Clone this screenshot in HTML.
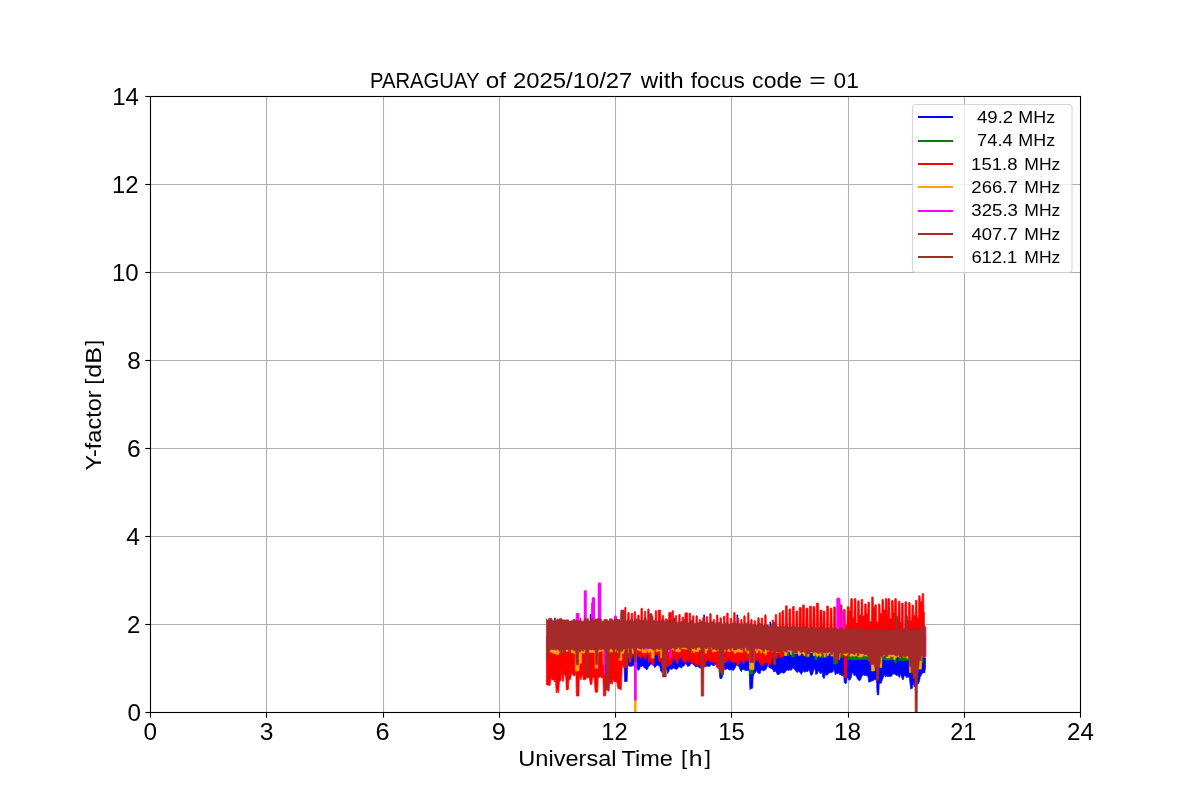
<!DOCTYPE html>
<html><head><meta charset="utf-8"><title>PARAGUAY Y-factor</title>
<style>
html,body{margin:0;padding:0;background:#fff;}
body{width:1200px;height:800px;overflow:hidden;font-family:"Liberation Sans", sans-serif;}
svg{display:block;will-change:transform;}
text{font-family:"Liberation Sans", sans-serif;}
</style></head><body>
<svg width="1200" height="800" viewBox="0 0 1200 800">
<rect width="1200" height="800" fill="#fff"/>
<g stroke="#b0b0b0" stroke-width="1.1" fill="none">
<line x1="266.5" y1="96.5" x2="266.5" y2="712.5"/>
<line x1="383.5" y1="96.5" x2="383.5" y2="712.5"/>
<line x1="499.5" y1="96.5" x2="499.5" y2="712.5"/>
<line x1="615.5" y1="96.5" x2="615.5" y2="712.5"/>
<line x1="731.5" y1="96.5" x2="731.5" y2="712.5"/>
<line x1="848.5" y1="96.5" x2="848.5" y2="712.5"/>
<line x1="964.5" y1="96.5" x2="964.5" y2="712.5"/>
<line x1="150.5" y1="624.5" x2="1080.5" y2="624.5"/>
<line x1="150.5" y1="536.5" x2="1080.5" y2="536.5"/>
<line x1="150.5" y1="448.5" x2="1080.5" y2="448.5"/>
<line x1="150.5" y1="360.5" x2="1080.5" y2="360.5"/>
<line x1="150.5" y1="272.5" x2="1080.5" y2="272.5"/>
<line x1="150.5" y1="184.5" x2="1080.5" y2="184.5"/>
</g>
<clipPath id="ax"><rect x="150.5" y="96.5" width="930" height="616"/></clipPath>
<g clip-path="url(#ax)">
<path d="M546.95,636.4 925.45,636.4 925.45,668.1 924.70,673.2 924.45,672.2 922.95,673.1 922.70,673.3 922.45,673.5 921.45,674.5 921.20,675.7 920.45,676.4 920.20,677.3 919.95,679.1 919.70,679.8 919.45,681.6 919.20,681.8 918.95,681.9 918.70,683.7 917.70,684.2 917.45,683.7 916.45,685.2 916.20,684.9 915.20,686.4 914.95,686.7 914.20,686.7 913.95,686.0 913.45,681.2 913.20,681.1 912.95,683.7 912.70,685.6 912.45,688.3 912.20,688.4 910.95,688.4 910.70,689.2 910.45,687.1 909.45,678.5 909.20,676.8 907.95,677.4 907.70,677.1 906.95,677.5 906.70,677.6 906.45,677.4 906.20,676.6 904.20,675.3 903.95,677.2 903.45,679.0 903.20,679.7 902.45,679.7 902.20,678.2 901.95,678.2 901.70,677.4 900.70,674.1 900.45,674.2 900.20,674.7 899.95,676.4 899.45,677.4 899.20,677.6 898.95,677.3 898.70,676.0 898.20,675.5 897.95,675.3 897.20,674.7 896.95,675.8 894.95,674.3 894.70,673.9 894.45,673.8 893.45,674.2 893.20,673.9 892.20,674.3 891.95,675.9 890.95,676.3 890.70,676.3 889.70,676.7 889.45,676.1 889.20,676.2 887.45,676.8 887.20,675.4 886.20,675.7 885.95,676.9 885.45,677.1 885.20,676.8 884.20,674.5 883.95,674.8 882.70,679.4 882.45,679.6 880.95,683.7 880.70,682.8 879.20,683.5 878.95,690.7 878.70,694.9 877.45,694.9 877.20,693.2 876.95,691.7 876.70,684.2 876.45,680.1 875.45,680.1 875.20,679.5 873.95,679.5 873.70,680.6 872.70,680.6 872.45,680.8 871.70,681.3 871.45,681.0 870.20,681.8 869.95,682.1 868.70,682.1 868.45,680.0 868.20,677.8 867.95,676.9 867.70,675.7 865.95,676.0 865.70,675.1 864.20,675.4 863.95,674.7 863.20,674.9 862.95,675.0 862.70,675.0 861.45,677.3 861.20,678.5 860.45,679.9 860.20,679.9 859.95,679.8 859.70,680.8 858.20,680.0 857.95,679.1 857.20,678.7 856.95,677.4 856.45,677.1 856.20,676.4 855.20,673.8 854.95,675.5 853.70,675.3 853.45,673.1 852.20,673.0 851.95,673.6 851.70,675.2 851.20,677.9 850.95,678.1 850.70,678.2 850.45,679.7 849.45,680.2 849.20,679.9 848.45,679.2 848.20,678.0 847.45,677.3 847.20,677.4 846.95,679.0 846.70,681.3 846.45,682.9 846.20,683.4 844.95,683.4 844.70,682.5 844.20,682.5 843.95,678.7 843.70,675.5 842.70,674.7 842.45,676.2 841.45,675.5 841.20,675.2 840.45,674.6 840.20,674.5 839.45,674.7 839.20,673.0 837.20,673.5 836.95,673.4 836.20,673.5 835.95,674.6 835.20,674.8 834.95,673.6 834.20,669.8 833.95,669.3 833.70,669.8 833.45,670.7 832.95,671.7 832.70,672.1 830.70,672.7 830.45,672.4 829.20,672.8 828.95,673.4 828.45,673.5 828.20,673.6 827.95,673.6 827.70,674.9 825.95,675.1 825.70,673.6 825.45,673.6 825.20,674.1 824.95,675.1 824.70,677.2 824.45,678.2 824.20,678.2 823.45,678.2 823.20,677.0 822.70,677.0 822.45,674.6 822.20,672.5 821.45,672.0 821.20,673.7 819.45,672.5 819.20,671.6 817.95,670.7 817.70,672.2 817.45,673.9 817.20,674.0 815.95,674.0 815.70,674.5 815.45,672.1 815.20,670.1 814.95,670.1 814.70,668.4 813.95,668.4 813.70,670.0 812.70,674.0 812.45,674.3 811.95,674.3 811.70,675.2 810.70,675.2 810.45,674.1 810.20,673.2 809.20,669.5 808.95,669.4 808.45,669.7 808.20,671.2 807.20,671.9 806.95,670.9 805.95,671.6 805.70,671.7 805.20,672.0 804.95,671.6 804.70,672.4 803.95,671.1 803.70,671.3 803.45,670.7 801.70,673.5 801.45,674.5 800.45,673.2 800.20,673.0 799.95,672.0 798.95,671.8 798.70,671.0 797.95,670.9 797.70,672.4 796.95,672.3 796.70,672.1 795.70,671.2 795.45,670.3 794.20,669.2 793.95,668.8 792.95,667.9 792.70,668.1 792.20,668.6 791.95,669.5 790.95,670.5 790.70,670.1 789.20,669.7 788.95,670.5 787.45,670.1 787.20,670.1 786.95,670.4 786.70,670.3 785.20,672.0 784.95,672.5 784.70,672.8 784.45,672.9 784.20,672.9 783.95,673.1 782.45,673.1 782.20,672.4 781.20,672.4 780.95,672.4 780.20,673.5 779.95,673.6 779.45,674.3 779.20,674.4 778.20,674.4 777.95,674.9 777.70,674.9 777.45,674.6 776.70,673.5 776.45,672.2 775.95,671.4 775.70,671.3 774.70,671.3 774.45,672.0 773.70,672.0 773.45,671.1 772.45,669.1 772.20,668.9 771.70,668.8 771.45,668.4 769.70,667.9 769.45,668.0 769.20,667.7 768.20,665.3 767.95,665.0 767.70,665.5 767.45,666.3 765.95,669.6 765.70,669.9 765.45,669.9 765.20,669.7 764.45,669.7 764.20,670.9 762.95,670.9 762.70,669.9 761.45,669.9 761.20,670.2 760.95,670.4 760.20,673.4 759.95,673.5 757.95,673.1 757.70,672.6 756.70,669.9 756.45,671.2 755.45,672.6 755.20,672.2 754.45,673.2 754.20,673.9 753.45,675.9 753.20,676.2 752.95,681.1 752.70,687.9 752.45,688.2 752.20,688.5 750.45,688.5 750.20,689.5 749.95,689.5 749.70,686.4 749.20,670.6 748.95,670.3 746.95,670.6 746.70,670.4 744.95,670.6 744.70,669.7 743.70,669.9 743.45,669.5 743.20,668.9 741.70,670.2 741.45,671.8 741.20,671.6 740.20,669.9 739.95,669.5 739.45,668.3 739.20,667.0 738.95,666.4 738.70,666.2 737.20,665.7 736.95,665.4 736.45,665.2 736.20,665.3 735.95,665.7 735.70,666.8 734.20,669.5 733.95,669.7 733.70,669.7 733.45,670.5 732.70,670.5 732.45,668.8 731.70,668.8 731.45,670.1 731.20,670.1 730.95,670.1 730.20,669.7 729.95,670.1 728.45,669.4 728.20,669.4 727.95,668.4 726.45,669.1 726.20,669.2 725.95,669.3 725.70,669.4 724.95,669.6 724.70,668.8 724.20,669.0 723.95,669.2 722.70,674.7 722.45,676.3 721.95,678.1 721.70,678.6 721.45,678.5 719.95,678.5 719.70,676.9 719.20,669.7 718.95,668.8 718.20,667.4 717.95,667.7 717.20,666.4 716.95,666.0 715.95,665.3 715.70,664.3 714.70,663.6 714.45,665.7 714.20,665.6 712.45,665.4 712.20,664.5 711.45,664.4 711.20,664.6 710.95,663.9 710.20,665.9 709.95,666.4 708.95,666.2 708.70,666.4 707.20,666.1 706.95,666.4 706.70,666.3 706.45,666.3 704.95,666.6 704.70,667.0 704.45,667.0 704.20,667.1 703.70,667.1 703.45,666.8 701.95,667.0 701.70,668.3 701.45,668.3 701.20,668.3 700.70,668.3 700.45,667.8 699.70,667.8 699.45,667.8 698.95,667.5 698.70,667.0 697.45,666.2 697.20,666.3 696.70,666.8 696.45,666.2 695.70,666.9 695.45,666.9 695.20,666.5 693.95,664.9 693.70,664.5 693.45,665.1 692.20,662.9 691.95,662.9 690.20,664.7 689.95,665.4 689.70,665.6 688.95,666.2 688.70,665.9 687.70,666.7 687.45,666.4 687.20,665.4 685.70,663.6 685.45,663.5 685.20,664.0 683.95,665.9 683.70,666.2 683.45,666.4 683.20,666.0 682.45,666.6 682.20,667.3 681.20,668.1 680.95,668.1 680.70,667.5 679.45,666.7 679.20,667.0 678.95,666.8 678.70,667.1 678.20,667.6 677.95,668.3 676.95,669.3 676.70,669.5 675.95,668.9 675.70,669.1 675.20,668.7 674.95,668.6 674.45,668.8 674.20,667.6 673.20,668.0 672.95,668.7 672.70,668.8 671.20,669.6 670.95,669.5 669.95,668.1 669.70,668.1 669.45,669.4 669.20,670.3 668.95,671.5 668.70,671.9 668.20,671.9 667.95,673.5 667.70,673.5 667.45,672.6 667.20,670.6 666.95,670.0 666.70,670.0 666.45,668.8 665.20,668.8 664.95,668.4 663.20,668.4 662.95,670.2 662.45,670.2 662.20,671.0 661.95,672.7 661.70,671.2 660.70,671.2 660.45,670.3 660.20,668.1 659.95,667.6 659.70,665.5 659.45,665.5 658.20,666.0 657.95,664.8 657.45,665.0 656.20,665.6 655.95,666.8 654.45,667.5 654.20,666.2 653.20,665.2 652.95,665.1 652.70,664.6 651.45,664.1 651.20,664.0 650.95,663.9 650.70,664.2 649.95,665.1 649.70,665.5 648.95,666.4 648.70,666.7 647.95,667.4 647.70,668.9 646.70,669.9 646.45,669.9 646.20,669.4 645.95,669.2 645.45,668.3 645.20,668.0 643.95,667.8 643.70,666.3 641.95,666.0 641.70,666.7 640.95,666.6 640.70,666.6 640.45,666.7 640.20,667.0 639.95,667.6 639.70,669.1 638.95,669.8 638.70,670.2 638.45,670.5 638.20,670.1 637.20,668.4 636.95,669.1 635.70,668.0 635.45,667.3 634.20,666.2 633.95,666.2 633.70,665.1 633.20,665.3 632.95,665.2 632.45,665.0 632.20,666.4 631.45,666.1 631.20,666.4 630.95,665.3 630.20,666.6 629.95,666.6 629.70,666.3 628.45,666.0 628.20,665.3 627.95,664.4 627.70,663.3 627.45,669.8 627.20,681.4 626.20,681.4 625.95,681.5 625.20,681.5 624.95,681.9 624.70,681.9 624.45,677.7 624.20,670.6 623.95,664.8 623.70,663.9 622.95,661.5 622.70,661.7 622.45,660.9 622.20,657.9 621.95,650.9 621.70,644.7 621.45,639.6 546.95,639.6Z" fill="#0000ff" stroke="#0000ff" stroke-width="0.70" stroke-linejoin="round"/>
<line x1="554.90" y1="640.0" x2="554.90" y2="618.4" stroke="#0000ff" stroke-width="1.60" stroke-linecap="round"/>
<line x1="590.60" y1="640.0" x2="590.60" y2="614.8" stroke="#0000ff" stroke-width="1.60" stroke-linecap="round"/>
<line x1="674.40" y1="640.0" x2="674.40" y2="618.8" stroke="#0000ff" stroke-width="1.60" stroke-linecap="round"/>
<line x1="704.10" y1="640.0" x2="704.10" y2="615.2" stroke="#0000ff" stroke-width="1.60" stroke-linecap="round"/>
<line x1="737.30" y1="640.0" x2="737.30" y2="615.2" stroke="#0000ff" stroke-width="1.60" stroke-linecap="round"/>
<line x1="770.30" y1="640.0" x2="770.30" y2="622.4" stroke="#0000ff" stroke-width="1.60" stroke-linecap="round"/>
<line x1="686.50" y1="640.0" x2="686.50" y2="620.3" stroke="#0000ff" stroke-width="1.60" stroke-linecap="round"/>
<line x1="691.00" y1="640.0" x2="691.00" y2="620.8" stroke="#0000ff" stroke-width="1.60" stroke-linecap="round"/>
<path d="M546.95,636.4 925.45,636.4 925.45,656.9 923.20,656.9 922.95,662.9 922.20,662.9 921.95,654.5 919.20,654.5 918.95,654.4 917.95,654.4 917.70,655.0 914.95,655.0 914.70,657.0 913.20,657.0 912.95,656.4 910.45,656.4 910.20,655.4 908.70,655.4 908.45,660.4 898.95,660.4 898.70,654.9 897.95,654.9 897.70,656.3 896.45,656.2 896.20,662.9 894.70,662.9 894.45,655.2 893.95,655.2 893.70,655.8 892.95,655.7 892.70,659.9 883.20,659.9 882.95,657.1 882.70,655.5 881.70,655.5 881.45,656.3 880.20,656.3 879.95,655.2 876.70,655.1 876.45,655.0 873.70,654.9 873.45,654.3 871.45,654.2 871.20,655.9 868.95,655.8 868.70,655.5 868.45,655.5 868.20,659.4 847.45,659.4 847.20,653.6 846.70,653.5 846.45,656.6 844.20,656.5 843.95,655.1 843.45,655.0 843.20,657.6 840.20,657.6 839.95,655.6 838.95,655.6 838.70,652.5 837.70,652.4 837.45,663.9 833.70,663.9 833.45,655.5 831.20,655.4 830.95,651.6 828.70,651.5 828.45,653.6 826.70,653.5 826.45,657.6 818.95,657.6 818.70,653.3 817.45,653.3 817.20,654.9 816.95,659.4 814.95,659.4 814.70,651.0 812.70,650.9 812.45,652.2 811.20,652.2 810.95,651.2 810.20,651.2 809.95,655.9 803.20,655.9 802.95,655.1 802.70,653.0 799.70,652.8 799.45,654.2 797.95,654.1 797.70,652.1 795.95,652.1 795.70,650.9 794.95,650.8 794.70,656.9 791.70,656.9 791.45,651.4 790.70,651.4 790.45,651.3 789.95,651.2 789.70,651.2 789.45,650.0 789.20,650.0 788.95,655.5 785.95,655.5 785.70,650.9 785.20,650.9 784.95,639.6 753.20,639.6 752.95,673.9 749.70,673.9 749.45,639.6 723.70,639.6 723.45,675.2 721.20,675.2 720.95,639.6 546.95,639.6Z" fill="#008000" stroke="#008000" stroke-width="0.70" stroke-linejoin="round"/>
<path d="M546.45,640.4 624.20,640.4 624.45,634.4 624.70,607.5 625.95,607.5 626.20,634.4 627.45,634.4 627.70,613.3 627.95,612.6 629.20,612.6 629.45,634.4 630.95,634.4 631.20,614.0 631.45,613.3 632.45,613.3 632.70,614.0 632.95,634.4 633.95,634.4 634.20,612.3 634.45,611.6 635.45,611.6 635.70,612.3 635.95,634.4 637.45,634.4 637.70,615.8 637.95,615.1 638.95,615.1 639.20,615.8 639.45,634.4 640.70,634.4 640.95,608.9 641.20,608.2 642.20,608.2 642.45,608.9 642.70,634.4 644.20,634.4 644.45,611.3 645.70,611.3 645.95,634.4 647.45,634.4 647.70,609.6 647.95,608.9 648.95,608.9 649.20,609.6 649.45,634.4 651.20,634.4 651.45,617.2 651.70,616.5 652.70,616.5 652.95,617.2 653.20,634.4 654.95,634.4 655.20,611.4 655.45,610.7 656.45,610.7 656.70,611.4 656.95,634.4 657.95,634.4 658.20,610.1 660.45,610.1 660.70,610.9 660.95,634.4 661.95,634.4 662.20,616.1 662.45,615.4 663.45,615.4 663.70,616.1 663.95,634.4 665.20,634.4 665.45,619.4 665.70,618.7 666.70,618.7 666.95,619.4 667.20,634.4 668.45,634.4 668.70,613.1 668.95,612.4 671.20,612.4 671.45,613.1 671.70,634.4 671.95,634.4 672.20,610.7 673.45,610.7 673.70,634.4 674.95,634.4 675.20,616.4 675.45,615.7 676.70,615.7 676.95,634.4 678.45,634.4 678.70,615.2 678.95,614.5 680.20,614.5 680.45,634.4 681.95,634.4 682.20,617.7 682.45,617.0 683.45,617.0 683.70,617.7 683.95,634.4 684.70,634.4 684.95,613.5 685.20,612.8 687.45,612.8 687.70,613.5 687.95,634.4 688.95,634.4 689.20,613.7 689.45,613.0 690.45,613.0 690.70,613.7 690.95,634.4 692.20,634.4 692.45,616.4 692.70,615.7 693.70,615.7 693.95,616.4 694.20,634.4 695.70,634.4 695.95,616.4 696.20,615.7 697.20,615.7 697.45,616.4 697.70,634.4 698.95,634.4 699.20,620.3 699.45,619.6 700.45,619.6 700.70,620.3 700.95,634.4 702.45,634.4 702.70,618.1 702.95,617.4 703.95,617.4 704.20,618.1 704.45,634.4 705.95,634.4 706.20,617.2 706.45,616.5 707.45,616.5 707.70,617.2 707.95,634.4 709.45,634.4 709.70,614.4 709.95,613.6 710.95,613.6 711.20,614.4 711.45,634.4 712.95,634.4 713.20,620.3 713.45,619.6 714.45,619.6 714.70,620.3 714.95,634.4 716.20,634.4 716.45,615.7 716.70,615.0 717.70,615.0 717.95,615.7 718.20,634.4 719.70,634.4 719.95,618.4 720.20,617.7 721.20,617.7 721.45,618.4 721.70,634.4 723.20,634.4 723.45,616.8 723.70,616.1 724.70,616.1 724.95,616.8 725.20,634.4 726.45,634.4 726.70,613.7 726.95,613.0 727.95,613.0 728.20,613.7 728.45,634.4 729.95,634.4 730.20,619.0 730.45,618.3 731.45,618.3 731.70,619.0 731.95,634.4 733.45,634.4 733.70,613.1 733.95,612.4 734.95,612.4 735.20,613.1 735.45,634.4 736.95,634.4 737.20,618.6 737.45,617.9 738.45,617.9 738.70,618.6 738.95,634.4 740.45,634.4 740.70,619.6 741.95,619.6 742.20,634.4 743.45,634.4 743.70,616.4 743.95,615.7 744.95,615.7 745.20,616.4 745.45,634.4 747.45,634.4 747.70,612.8 748.95,612.8 749.20,634.4 750.45,634.4 750.70,620.1 750.95,619.4 751.95,619.4 752.20,620.1 752.45,634.4 753.95,634.4 754.20,621.4 754.45,620.6 755.45,620.6 755.70,621.4 755.95,634.4 757.45,634.4 757.70,618.4 757.95,617.7 758.95,617.7 759.20,618.4 759.45,634.4 760.95,634.4 761.20,618.6 761.45,617.9 762.45,617.9 762.70,618.6 762.95,634.4 764.45,634.4 764.70,615.5 764.95,614.8 765.95,614.8 766.20,615.5 766.45,634.4 771.95,634.4 772.20,620.0 773.45,620.0 773.70,634.4 774.95,634.4 775.20,615.1 775.45,614.4 776.45,614.4 776.70,615.1 776.95,634.4 778.95,634.4 779.20,612.8 780.45,612.8 780.70,627.9 781.70,627.9 781.95,611.4 782.20,610.7 783.70,610.7 783.95,627.9 785.20,627.9 785.45,606.5 785.70,605.8 787.20,605.8 787.45,627.9 788.70,627.9 788.95,609.6 789.20,608.9 790.70,608.9 790.95,627.9 792.20,627.9 792.45,607.2 792.70,606.5 794.20,606.5 794.45,627.9 795.70,627.9 795.95,611.7 796.20,611.0 797.70,611.0 797.95,627.9 798.95,627.9 799.20,608.1 799.45,607.4 800.95,607.4 801.20,608.1 801.45,627.9 802.20,627.9 802.45,605.6 802.70,604.9 804.20,604.9 804.45,605.6 804.70,627.9 805.70,627.9 805.95,608.8 806.20,608.1 807.70,608.1 807.95,608.8 808.20,627.9 809.20,627.9 809.45,606.7 809.70,606.0 811.20,606.0 811.45,606.7 811.70,627.9 812.70,627.9 812.95,607.2 813.20,606.5 814.70,606.5 814.95,607.2 815.20,627.9 816.20,627.9 816.45,603.7 816.70,603.0 818.20,603.0 818.45,603.7 818.70,627.9 819.70,627.9 819.95,610.9 820.20,610.1 821.70,610.1 821.95,610.9 822.20,627.9 822.95,627.9 823.20,611.0 824.70,611.0 824.95,611.7 825.20,627.9 826.45,627.9 826.70,606.0 828.20,606.0 828.45,606.7 828.70,627.9 829.95,627.9 830.20,608.1 831.70,608.1 831.95,608.8 832.20,627.9 833.45,627.9 833.70,606.9 835.20,606.9 835.45,607.6 835.70,627.9 839.70,627.9 839.95,605.4 840.20,604.7 841.70,604.7 841.95,605.4 842.20,627.9 842.95,627.9 843.20,610.2 843.45,609.5 844.95,609.5 845.20,610.2 845.45,627.9 845.95,627.9 846.20,624.9 846.95,624.9 847.20,607.2 847.45,606.5 848.70,606.5 848.95,607.2 849.20,610.9 850.45,610.9 850.70,599.3 850.95,598.6 852.20,598.6 852.45,599.3 852.70,617.9 853.95,617.9 854.20,599.3 854.45,598.6 855.70,598.6 855.95,599.3 856.20,623.1 857.45,623.1 857.70,600.8 859.20,600.8 859.45,615.2 860.95,615.2 861.20,599.5 862.70,599.5 862.95,616.1 864.45,616.1 864.70,603.9 866.20,603.9 866.45,613.5 867.70,613.5 867.95,602.1 869.20,602.1 869.45,602.8 869.70,621.4 871.45,621.4 871.70,597.0 873.20,597.0 873.45,607.4 874.70,607.4 874.95,604.7 876.20,604.7 876.45,605.4 876.70,622.2 878.20,622.2 878.45,603.9 879.70,603.9 879.95,604.6 880.20,613.5 881.70,613.5 881.95,599.5 883.20,599.5 883.45,600.2 883.70,610.0 885.20,610.0 885.45,598.6 886.70,598.6 886.95,599.3 887.20,613.5 887.70,613.5 887.95,599.3 888.20,598.6 889.45,598.6 889.70,599.3 889.95,618.7 891.20,618.7 891.45,601.1 891.70,600.4 892.95,600.4 893.20,601.1 893.45,612.6 894.45,612.6 894.70,599.3 894.95,598.6 896.20,598.6 896.45,599.3 896.70,624.9 897.95,624.9 898.20,601.9 898.45,601.2 899.70,601.2 899.95,601.9 900.20,622.2 901.20,622.2 901.45,603.7 901.70,603.0 902.95,603.0 903.20,603.7 903.45,628.4 904.70,628.4 904.95,602.4 905.20,601.7 906.45,601.7 906.70,602.4 906.95,620.5 908.20,620.5 908.45,603.2 908.70,602.5 909.95,602.5 910.20,603.2 910.45,620.5 911.70,620.5 911.95,605.2 913.45,605.2 913.70,615.2 915.20,615.2 915.45,600.4 916.95,600.4 917.20,617.9 918.45,617.9 918.70,595.8 919.95,595.8 920.20,596.5 920.45,602.1 921.95,602.1 922.20,593.4 923.45,593.4 923.70,594.1 923.95,612.4 924.45,612.4 924.45,639.6 846.95,639.6 846.70,677.4 844.20,677.4 843.95,639.6 786.20,639.6 785.95,648.0 785.70,651.3 785.45,654.1 785.20,654.6 784.45,655.1 784.20,655.7 782.95,656.5 782.70,656.7 782.45,657.0 782.20,656.5 781.70,657.0 781.45,657.2 781.20,657.2 780.95,657.7 779.95,657.9 779.70,657.4 779.20,654.9 778.95,653.3 778.70,654.0 778.20,655.5 777.95,656.6 777.70,657.3 777.45,657.7 776.95,658.2 776.70,659.0 776.45,659.3 776.20,657.6 775.95,653.6 775.70,652.4 775.20,652.4 774.95,652.0 773.95,652.0 773.70,653.8 773.45,653.8 773.20,654.1 772.20,659.4 771.95,660.8 771.70,661.3 770.70,663.3 770.45,663.7 770.20,664.1 769.95,664.5 768.95,666.0 768.70,665.8 768.20,665.2 767.95,663.4 767.20,662.5 766.95,662.2 766.20,661.5 765.95,662.7 765.70,662.7 764.45,663.6 764.20,661.4 763.95,662.0 763.20,665.0 762.95,665.0 762.45,664.9 762.20,665.6 761.20,665.4 760.95,665.3 760.70,664.7 759.95,663.2 759.70,662.0 758.70,660.0 758.45,660.3 757.70,658.8 757.45,658.5 757.20,659.0 756.20,660.4 755.70,661.0 755.45,661.4 754.70,662.4 754.45,663.2 754.20,657.7 753.95,653.1 753.45,653.1 753.20,651.7 752.45,651.7 752.20,651.7 750.95,651.7 750.70,653.2 749.70,653.2 749.45,653.3 748.95,658.0 748.70,659.9 748.45,660.4 747.45,660.1 747.20,660.7 746.20,660.4 745.95,659.2 744.70,660.2 744.45,661.1 744.20,663.6 743.20,663.6 742.95,661.6 741.95,661.6 741.70,661.1 741.45,660.6 741.20,661.7 740.20,659.7 739.95,659.4 739.45,663.2 739.20,664.2 738.20,664.2 737.95,665.3 737.70,665.3 737.45,665.0 736.45,662.0 736.20,661.4 735.95,661.4 735.70,661.7 734.45,661.9 734.20,663.1 733.45,663.2 733.20,661.6 731.70,661.9 731.45,661.3 731.20,660.5 730.70,658.8 730.45,660.3 730.20,659.5 729.95,659.4 728.95,660.6 728.70,658.4 727.95,659.3 727.70,660.3 727.45,660.6 726.20,661.8 725.95,661.7 725.70,662.9 724.20,662.3 723.95,662.6 723.20,663.7 722.95,661.9 721.45,664.1 721.20,665.1 719.70,667.2 719.45,668.2 719.20,668.5 718.95,668.4 718.20,668.1 717.95,668.3 717.20,668.0 716.95,667.7 715.70,663.1 715.45,662.9 715.20,662.8 714.95,662.7 713.45,662.0 713.20,662.5 712.70,662.3 712.45,662.4 712.20,662.7 711.95,660.9 710.95,661.9 710.70,661.6 710.45,662.2 709.45,660.2 709.20,659.8 708.95,659.8 708.45,660.1 708.20,660.3 706.70,661.1 706.45,661.7 706.20,661.8 705.95,662.3 704.95,666.3 704.70,666.8 702.95,667.2 702.70,666.1 701.70,666.3 701.45,668.5 701.20,668.5 700.95,668.0 700.70,667.4 700.20,666.2 699.95,665.4 699.20,663.5 698.95,663.5 698.45,665.0 698.20,664.4 697.95,665.1 697.70,665.6 696.95,664.1 696.70,663.9 696.45,663.8 696.20,665.2 694.95,664.8 694.70,663.5 694.45,663.4 694.20,663.3 693.95,663.1 693.70,663.1 692.45,662.3 692.20,663.5 691.20,662.8 690.95,661.4 690.45,661.0 690.20,659.9 689.95,658.2 689.45,653.5 689.20,658.1 688.95,662.1 688.45,662.2 688.20,660.4 686.45,660.8 686.20,662.6 684.95,662.9 684.70,661.9 684.45,661.8 683.70,661.2 683.45,661.7 682.95,661.4 682.70,659.9 681.20,656.5 680.95,656.8 680.70,657.6 680.45,658.2 679.95,659.7 679.70,659.7 678.70,656.1 678.45,657.1 677.70,663.1 677.45,663.7 677.20,663.7 676.95,662.1 675.95,662.1 675.70,661.3 675.45,660.1 675.20,659.7 674.70,657.4 674.45,657.0 673.95,658.0 673.70,657.7 672.95,659.2 672.70,659.8 672.20,660.9 671.95,663.2 671.20,664.9 670.95,665.2 670.70,663.9 668.95,664.2 668.70,664.4 667.70,666.4 667.45,666.6 666.95,666.6 666.70,666.4 665.45,666.4 665.20,666.6 664.20,666.6 663.95,666.5 662.95,666.5 662.70,667.7 662.45,667.7 662.20,667.0 661.45,662.5 661.20,661.6 659.95,660.8 659.70,661.6 658.95,661.1 658.70,659.4 658.45,655.9 658.20,654.9 657.95,655.0 657.70,653.6 656.95,653.7 656.70,654.6 654.95,655.0 654.70,654.7 654.45,654.7 654.20,659.5 653.95,663.5 653.70,665.3 652.45,665.3 652.20,663.9 651.95,663.9 651.70,663.5 651.20,662.0 650.95,660.8 650.70,660.7 649.45,660.7 649.20,662.7 648.95,662.7 648.70,662.3 648.20,658.3 647.95,654.0 647.70,653.8 645.95,657.6 645.70,658.9 645.45,659.5 645.20,659.8 644.95,659.2 644.70,658.9 643.70,656.7 643.45,656.2 642.70,656.4 642.45,657.0 641.70,657.1 641.45,657.9 640.20,658.2 639.95,657.9 639.70,656.5 639.45,656.3 638.20,656.8 637.95,654.8 637.20,655.1 636.95,653.9 636.70,651.9 636.45,651.8 635.70,651.8 635.45,651.4 634.20,651.4 633.95,651.7 633.70,652.4 633.45,654.0 631.95,658.2 631.70,657.9 631.45,657.2 631.20,655.9 630.95,655.3 629.95,655.6 629.70,657.7 627.95,658.2 627.70,661.4 627.45,666.1 626.70,666.0 626.45,667.7 625.20,667.6 624.95,667.5 623.45,667.4 623.20,665.6 622.45,665.6 622.20,667.0 621.95,673.9 621.70,680.1 621.45,685.6 621.20,689.7 620.20,689.6 619.95,689.0 619.20,688.9 618.95,689.2 618.70,689.1 617.95,688.3 617.70,687.1 617.45,686.8 617.20,684.4 616.95,682.4 616.45,682.4 616.20,681.5 614.45,681.5 614.20,682.3 613.20,679.3 612.95,679.6 612.20,684.5 611.95,683.6 611.20,683.6 610.95,683.5 610.20,683.5 609.95,683.5 609.70,682.0 609.45,683.5 609.20,688.5 608.95,691.4 606.95,689.7 606.70,688.8 606.20,688.4 605.95,690.4 605.70,695.2 605.45,696.0 603.70,696.0 603.45,694.7 603.20,685.5 602.95,677.7 601.45,677.7 601.20,677.9 600.45,676.1 600.20,677.0 599.45,677.3 599.20,677.3 598.20,677.7 597.95,685.3 597.70,691.7 597.45,691.7 597.20,692.4 595.95,692.4 595.70,692.0 595.20,692.0 594.95,689.5 594.70,685.9 594.45,680.9 594.20,678.0 593.45,677.4 593.20,678.0 592.70,677.6 592.45,678.2 592.20,681.7 591.95,683.6 591.70,684.6 590.45,684.6 590.20,684.0 589.95,681.7 589.20,677.9 588.95,677.0 587.95,677.6 587.70,678.4 587.45,678.1 586.45,677.1 586.20,677.9 585.95,679.2 585.70,678.8 585.45,679.8 583.70,679.8 583.45,680.1 583.20,679.2 582.70,674.9 582.45,673.1 582.20,674.5 581.70,677.7 581.45,678.6 581.20,679.6 580.45,679.6 580.20,677.9 579.45,672.6 579.20,682.1 578.95,695.4 578.70,696.1 577.70,696.1 577.45,696.1 576.45,696.1 576.20,689.6 575.95,675.1 575.70,671.8 575.45,673.2 575.20,674.7 574.95,675.9 574.70,675.9 574.45,675.8 573.70,675.8 573.45,675.5 572.45,674.3 572.20,673.9 571.70,673.3 571.45,673.3 571.20,675.0 570.95,677.3 570.70,678.9 570.45,679.4 569.95,679.6 569.70,679.6 568.95,679.8 568.70,683.6 568.45,689.1 568.20,689.4 567.95,689.9 566.45,689.9 566.20,687.2 565.95,681.2 565.70,677.5 564.45,673.5 564.20,673.0 563.95,674.8 563.70,679.8 563.45,681.3 562.45,681.3 562.20,679.8 561.45,669.3 561.20,675.2 560.95,680.8 560.45,680.9 560.20,681.2 559.45,681.3 559.20,684.7 558.95,690.0 558.70,692.9 558.45,692.9 558.20,690.4 557.45,690.4 557.20,692.8 556.20,692.8 555.95,688.6 555.45,680.6 555.20,678.9 554.45,681.9 554.20,681.9 553.95,679.8 552.70,679.8 552.45,679.0 552.20,679.9 551.45,677.1 551.20,678.4 550.95,679.6 550.70,681.8 550.45,683.6 550.20,685.3 548.45,685.3 548.20,685.0 546.70,685.0 546.45,683.0Z" fill="#ff0000" stroke="#ff0000" stroke-width="0.70" stroke-linejoin="round"/>
<path d="M546.95,636.4 925.45,636.4 925.45,657.4 924.70,657.4 924.45,656.7 922.70,656.7 922.45,657.1 921.70,657.1 921.45,669.1 918.20,669.1 917.95,657.0 917.70,657.8 915.70,657.8 915.45,656.2 914.45,656.2 914.20,657.3 912.20,657.3 911.95,672.6 909.45,672.6 909.20,656.7 908.95,658.8 907.70,658.8 907.45,657.8 905.70,657.8 905.45,657.3 903.45,657.3 903.20,655.9 901.20,655.9 900.95,657.2 900.20,657.2 899.95,657.2 899.45,657.2 899.20,657.0 898.20,657.0 897.95,656.8 896.70,656.7 896.45,657.4 895.45,657.4 895.20,659.4 893.70,659.4 893.45,657.7 893.20,656.6 891.45,656.5 891.20,655.7 890.20,655.7 889.95,658.0 888.45,658.0 888.20,658.1 886.70,658.0 886.45,655.7 885.70,655.7 885.45,655.3 883.70,655.2 883.45,656.2 881.95,656.1 881.70,667.4 879.70,667.4 879.45,657.3 879.20,655.3 877.70,655.3 877.45,655.1 876.20,655.0 875.95,657.4 874.95,657.4 874.70,670.9 871.45,670.9 871.20,657.7 870.95,657.7 870.70,657.2 869.70,657.2 869.45,657.3 867.95,657.3 867.70,656.2 866.95,656.2 866.70,656.1 864.70,656.0 864.45,655.2 862.70,655.1 862.45,656.6 861.95,656.5 861.70,657.1 859.45,657.0 859.20,657.1 857.95,657.0 857.70,655.5 855.45,655.4 855.20,656.2 853.20,656.1 852.95,655.8 851.95,655.7 851.70,656.2 849.45,656.1 849.20,654.1 847.20,654.0 846.95,655.6 845.45,655.6 845.20,655.3 844.45,655.3 844.20,654.4 842.70,654.3 842.45,653.9 841.70,653.9 841.45,653.6 839.95,653.6 839.70,659.4 837.70,659.4 837.45,654.3 835.70,654.2 835.45,656.0 835.20,656.0 834.95,657.6 833.95,657.6 833.70,653.6 832.95,653.6 832.70,656.1 830.95,656.0 830.70,653.1 829.20,653.1 828.95,653.9 828.45,653.9 828.20,655.9 827.20,655.8 826.95,653.1 825.45,653.0 825.20,657.0 824.45,657.0 824.20,653.8 822.70,653.8 822.45,653.6 821.20,653.6 820.95,656.3 819.70,656.2 819.45,655.2 818.20,655.2 817.95,656.2 816.20,656.2 815.95,653.0 815.20,653.0 814.95,655.7 813.20,655.7 812.95,652.5 810.70,652.5 810.45,652.3 808.95,652.2 808.70,656.5 806.45,656.4 806.20,655.7 804.20,655.6 803.95,654.2 802.95,654.2 802.70,652.5 801.45,652.5 801.20,654.0 800.45,654.0 800.20,655.4 798.20,655.3 797.95,653.1 797.20,653.1 796.95,653.4 794.70,653.4 794.45,651.9 793.45,651.8 793.20,651.6 791.70,651.5 791.45,654.5 790.45,654.5 790.20,651.5 788.45,651.4 788.20,651.4 786.95,651.3 786.70,655.7 784.70,655.6 784.45,651.2 782.45,651.1 782.20,651.6 779.95,651.5 779.70,652.3 778.70,652.3 778.45,651.8 777.70,651.8 777.45,652.5 775.70,652.4 775.45,655.2 773.95,655.1 773.70,651.6 772.45,651.5 772.20,651.2 770.70,651.1 770.45,650.9 768.70,650.8 768.45,651.2 766.45,651.1 766.20,654.8 764.95,654.7 764.70,653.1 763.70,653.1 763.45,651.3 761.70,651.2 761.45,653.1 760.45,653.0 760.20,650.3 757.95,650.1 757.70,653.1 756.45,653.1 756.20,650.8 754.20,650.7 753.95,669.4 749.70,669.4 749.45,653.2 747.20,653.1 746.95,650.7 745.20,650.7 744.95,650.0 742.95,650.0 742.70,652.2 740.70,652.2 740.45,652.0 738.45,652.0 738.20,651.7 736.20,651.7 735.95,653.2 734.20,653.2 733.95,651.0 731.95,650.9 731.70,649.2 730.45,649.2 730.20,651.6 727.70,651.6 727.45,650.3 726.20,650.3 725.95,650.6 724.95,650.6 724.70,652.6 722.70,652.5 722.45,649.6 720.70,649.6 720.45,648.9 719.20,648.9 718.95,650.3 717.95,650.2 717.70,650.8 716.45,650.8 716.20,651.5 714.95,651.4 714.70,651.3 713.95,651.3 713.70,652.1 712.45,652.0 712.20,648.8 710.20,648.8 709.95,648.9 709.20,648.9 708.95,649.7 706.70,649.7 706.45,653.2 705.20,653.2 704.95,648.7 702.95,648.6 702.70,650.6 701.20,650.6 700.95,649.5 699.95,649.5 698.95,649.5 698.70,651.7 696.45,651.7 696.20,651.0 694.70,651.0 694.45,653.0 693.70,653.0 693.45,650.5 691.95,650.5 691.70,652.7 690.70,652.7 690.45,649.9 689.45,649.9 689.20,649.6 688.45,649.6 688.20,649.3 686.45,649.3 686.20,649.0 684.45,649.1 684.20,648.7 682.20,648.7 681.95,648.6 680.45,648.6 680.20,652.0 678.20,652.0 677.95,651.7 675.95,651.7 675.70,650.8 674.95,650.8 674.70,650.0 672.95,650.0 672.70,649.1 671.95,649.1 671.70,650.6 670.70,650.6 670.45,650.8 669.20,650.8 668.95,651.4 668.20,651.4 667.95,649.0 665.95,649.1 665.70,648.7 664.20,648.7 663.95,648.9 663.20,648.9 662.95,652.9 662.20,652.9 661.95,650.2 661.70,657.6 660.70,657.6 660.45,650.2 659.70,650.2 659.45,651.1 658.45,651.1 658.20,651.4 656.20,651.5 655.95,648.8 654.20,648.8 653.95,658.1 651.45,658.1 651.20,652.2 650.95,652.2 650.70,650.9 649.70,650.9 649.45,652.7 648.20,652.7 647.95,650.4 646.45,650.4 646.20,652.9 644.45,652.9 644.20,652.6 642.20,652.7 641.95,648.9 641.20,648.9 640.95,650.9 640.20,650.9 639.95,650.9 638.95,651.0 638.70,649.7 636.45,649.8 636.20,652.3 634.95,652.3 634.70,653.2 632.20,653.3 631.95,649.3 630.95,649.4 630.70,650.8 629.70,650.8 629.45,650.1 628.45,650.1 628.20,653.1 627.45,653.2 627.20,652.8 625.95,652.9 625.70,649.6 624.20,649.6 623.95,652.4 623.70,652.4 623.45,653.6 622.45,653.6 622.20,650.9 621.95,650.4 621.70,660.4 619.20,660.4 618.95,652.4 617.70,652.5 617.45,650.6 615.20,650.7 614.95,652.4 612.70,652.4 612.45,651.7 610.70,651.8 610.45,652.1 609.20,652.2 608.95,650.2 606.95,650.3 606.70,650.8 605.95,650.8 605.70,650.9 605.45,651.0 605.20,664.2 603.20,664.2 602.95,651.1 601.45,651.1 601.20,650.7 600.45,650.7 600.20,651.8 599.95,651.8 598.45,651.8 598.20,650.9 597.95,650.9 597.70,668.2 595.20,668.2 594.95,651.8 594.70,652.4 589.70,652.4 589.45,650.5 589.20,650.5 588.95,653.4 587.70,653.4 587.45,651.5 586.20,651.5 585.95,651.4 584.70,651.4 584.45,653.1 582.45,653.1 582.20,652.8 581.45,652.8 581.20,663.4 579.20,663.4 578.95,670.9 575.45,670.9 575.20,652.5 574.95,653.3 572.95,653.3 572.70,652.6 571.70,652.6 571.45,652.9 570.45,652.9 570.20,650.9 569.70,650.9 569.45,651.3 567.95,651.3 567.70,651.6 566.20,651.6 565.95,650.8 564.70,650.8 564.45,651.6 561.45,651.6 561.20,653.3 559.95,653.3 559.70,651.8 558.95,651.8 558.70,654.6 556.20,654.6 555.95,653.0 555.70,653.0 555.45,653.5 553.45,653.5 553.20,651.1 552.70,651.1 552.45,652.8 551.45,652.8 551.20,652.1 550.45,652.1 550.20,650.6 548.95,650.6 548.70,651.8 547.70,651.8 547.45,652.8 546.95,652.8Z" fill="#ffa500" stroke="#ffa500" stroke-width="0.70" stroke-linejoin="round"/>
<line x1="635.35" y1="645.0" x2="635.35" y2="712.5" stroke="#ffa500" stroke-width="2.60" stroke-linecap="butt"/>
<path d="M546.95,636.4 925.45,636.4 925.45,655.7 924.20,655.7 923.95,653.1 922.95,653.1 922.70,653.1 921.70,653.1 921.45,654.5 920.70,654.5 920.45,653.7 919.45,653.7 919.20,653.5 918.45,653.5 918.20,654.6 917.20,654.6 916.95,653.7 915.45,653.7 915.20,653.1 913.45,653.1 913.20,655.1 911.95,655.1 911.70,653.1 911.20,653.1 910.95,655.1 909.70,655.1 909.45,653.3 908.45,653.3 908.20,655.3 906.70,655.3 906.45,653.4 904.95,653.4 904.70,653.8 904.20,653.8 903.95,654.7 902.70,654.7 902.45,654.2 900.95,654.2 900.70,654.4 899.95,654.4 899.20,654.4 898.95,653.1 897.70,653.0 897.45,655.1 896.20,655.1 895.95,654.7 894.45,654.7 894.20,654.0 892.70,653.9 892.45,654.0 891.45,654.0 891.20,652.8 889.95,652.8 889.70,652.6 888.45,652.6 888.20,654.5 887.20,654.5 886.95,652.5 885.95,652.5 884.95,652.4 884.70,653.9 883.95,653.9 883.70,652.6 882.70,652.5 882.45,654.2 881.95,654.2 881.70,652.8 880.45,652.7 880.20,653.4 879.20,653.4 878.95,653.4 877.45,653.3 877.20,655.0 876.45,655.0 876.20,653.1 874.45,653.0 874.20,654.4 872.70,654.3 872.45,652.9 871.45,652.9 871.20,651.9 869.95,651.9 869.70,653.9 868.95,653.9 868.70,654.7 867.45,654.6 867.20,652.4 866.45,652.4 866.20,651.8 865.45,651.7 865.20,652.5 863.70,652.5 863.45,654.0 861.95,653.9 861.70,651.9 860.70,651.8 860.45,651.5 859.95,651.5 859.70,651.4 858.70,651.4 858.45,651.5 857.70,651.5 857.45,652.0 856.45,652.0 856.20,651.5 854.70,651.4 854.45,651.9 852.70,651.9 852.45,651.9 851.20,651.9 850.95,651.5 849.20,651.4 848.95,651.1 847.70,651.0 847.45,653.3 846.95,653.3 846.70,653.5 845.20,653.4 844.95,651.6 843.45,651.5 843.20,652.0 841.70,651.9 841.45,651.7 840.70,651.7 840.45,652.6 838.95,652.5 838.70,653.1 838.20,653.1 837.95,650.6 836.20,650.5 835.95,650.6 834.70,650.6 834.45,650.6 832.95,650.6 832.70,650.7 831.20,650.6 830.95,650.3 829.95,650.3 829.70,651.7 828.70,651.6 828.45,651.4 827.45,651.4 827.20,652.5 826.20,652.5 825.95,650.4 825.45,650.3 825.20,650.8 823.70,650.8 823.45,650.0 822.20,649.9 821.95,651.3 820.45,651.3 820.20,650.5 818.45,650.4 818.20,649.8 817.70,649.8 817.45,649.8 816.20,649.7 815.95,651.8 814.95,651.7 814.70,649.7 813.70,649.6 813.45,650.9 812.70,650.9 812.45,649.9 810.70,649.9 810.45,649.6 809.70,649.6 809.45,649.4 808.20,649.4 807.95,652.0 806.45,651.9 806.20,651.0 804.70,650.9 804.45,649.3 803.20,649.2 802.95,650.7 801.45,650.6 801.20,649.7 799.45,649.7 799.20,649.4 797.95,649.4 797.70,649.3 796.20,649.3 795.95,649.6 794.95,649.5 794.70,649.4 792.95,649.4 792.70,648.8 791.95,648.7 791.70,650.3 790.20,650.2 789.95,650.4 789.20,650.3 788.95,649.5 787.70,649.4 787.45,648.5 786.45,648.5 786.20,648.7 784.70,648.6 784.45,648.8 782.70,648.7 782.45,648.4 781.20,648.4 780.95,648.2 779.45,648.1 779.20,649.6 777.95,649.6 777.70,648.6 776.45,648.5 776.20,649.6 774.70,649.5 774.45,650.7 773.95,650.7 773.70,648.7 772.95,648.7 772.70,647.8 772.20,647.8 771.95,649.4 770.95,649.4 770.70,648.9 770.20,648.9 769.95,647.7 768.45,647.6 768.20,648.4 766.70,648.3 766.45,648.1 764.70,648.0 764.45,647.8 763.45,647.8 763.20,650.0 761.95,649.9 761.70,648.8 760.20,648.7 759.95,647.2 759.45,647.2 757.70,647.1 757.45,649.4 755.70,649.3 755.45,647.9 754.70,647.8 754.45,647.9 754.20,659.6 752.70,659.6 752.45,649.0 751.70,649.0 751.45,648.2 750.20,648.2 749.95,649.4 749.45,649.3 749.20,648.1 748.45,648.1 748.20,647.0 746.95,646.9 746.70,646.6 745.70,646.5 745.45,646.6 744.95,646.6 743.70,646.6 743.45,646.9 742.70,646.9 742.45,647.7 741.20,647.6 740.95,646.5 739.70,646.4 739.45,646.4 738.20,646.3 737.95,646.3 736.70,646.3 736.45,646.8 735.70,646.8 735.45,646.9 734.45,646.9 734.20,646.9 733.45,646.9 733.20,646.3 732.45,646.3 732.20,647.3 730.95,647.3 730.70,649.0 729.20,648.9 728.95,646.2 727.95,646.1 727.70,646.3 726.95,646.3 726.70,647.9 725.70,647.9 725.45,646.3 724.95,646.3 724.70,648.9 723.20,648.9 722.95,646.7 721.45,646.7 721.20,646.8 720.20,646.7 719.95,648.7 718.70,648.7 718.45,647.6 717.20,647.6 716.95,646.2 716.20,646.2 715.95,646.0 714.45,646.0 714.20,646.1 713.45,646.1 713.20,647.6 711.95,647.5 711.70,646.0 710.70,645.9 710.45,646.0 709.70,646.0 709.45,646.3 708.70,646.3 708.45,646.9 706.95,646.9 706.70,645.8 705.70,645.8 705.45,647.1 703.95,647.1 703.70,645.7 702.70,645.7 702.45,648.5 700.70,648.5 700.45,645.7 699.95,645.7 698.95,645.7 698.70,646.9 696.95,646.9 696.70,645.8 695.45,645.8 695.20,647.6 693.95,647.6 693.70,646.4 692.70,646.4 692.45,645.9 691.45,645.9 691.20,647.6 690.45,647.6 690.20,645.7 689.45,645.7 689.20,646.3 688.20,646.3 687.95,647.4 686.70,647.4 686.45,646.3 684.95,646.3 684.70,646.1 683.45,646.1 683.20,645.8 681.70,645.8 681.45,645.8 680.20,645.8 679.95,648.1 679.20,648.1 678.95,645.8 677.20,645.8 676.95,648.1 675.45,648.1 675.20,645.9 674.70,645.9 674.45,646.0 672.95,646.0 672.70,645.8 671.70,645.8 671.45,657.2 669.70,657.2 669.45,645.9 669.20,645.9 668.45,645.9 668.20,645.9 666.45,645.9 666.20,648.7 664.95,648.7 664.70,647.7 663.95,647.7 663.70,647.8 662.70,647.8 662.45,646.4 661.45,646.5 661.20,646.2 660.45,646.2 660.20,646.3 659.70,646.3 659.45,646.0 657.70,646.0 657.45,645.9 656.70,645.9 656.45,646.0 655.45,646.0 655.20,646.3 654.20,646.3 653.95,646.2 652.20,646.2 651.95,646.1 650.95,646.1 650.70,646.1 649.20,646.1 648.95,646.1 648.70,648.9 643.70,648.9 643.45,646.0 641.95,646.0 641.70,646.1 640.20,646.1 639.95,646.1 639.70,646.6 638.45,646.6 638.20,647.1 637.20,647.1 636.95,647.2 635.70,647.2 635.45,646.5 634.95,646.5 634.70,646.3 633.45,646.3 633.20,646.3 631.95,646.4 631.70,646.4 629.95,646.5 629.70,646.6 628.20,646.7 627.95,647.6 627.45,647.7 627.20,646.9 626.20,646.9 625.95,646.7 624.70,646.7 624.45,647.2 623.20,647.3 622.95,649.3 622.45,649.3 622.20,648.5 621.20,648.6 620.95,646.9 619.70,647.0 619.45,646.9 618.20,646.9 617.95,647.4 616.45,647.5 616.20,648.4 614.95,648.4 614.70,647.1 613.70,647.2 613.45,647.9 612.70,647.9 612.45,648.2 610.70,648.2 610.45,648.2 609.45,648.2 609.20,648.9 607.70,649.0 607.45,647.5 605.70,647.5 605.45,649.6 604.45,649.7 604.20,647.5 603.20,647.6 602.95,648.0 601.45,648.1 601.20,648.0 600.45,648.1 600.20,647.7 599.95,647.7 599.45,647.7 599.20,650.1 597.45,650.1 597.20,648.0 596.45,648.0 596.20,647.7 595.45,647.7 595.20,650.4 594.20,650.4 593.95,648.9 592.95,648.9 592.70,648.1 591.20,648.2 590.95,649.2 589.20,649.3 588.95,648.7 587.20,648.7 586.95,647.7 584.20,647.7 583.95,647.7 582.20,647.7 581.95,648.3 580.20,648.3 579.95,648.2 578.20,648.2 577.95,649.4 577.20,649.4 576.95,649.2 575.45,649.2 575.20,647.8 574.70,647.8 574.45,649.2 573.20,649.2 572.95,647.8 571.95,647.8 571.70,647.9 570.70,647.9 570.45,648.3 568.95,648.3 568.70,647.8 567.95,647.8 567.70,647.8 566.95,647.8 566.70,649.4 565.95,649.4 565.70,647.8 564.70,647.8 564.45,648.6 563.70,648.6 563.45,648.4 562.45,648.4 562.20,648.1 560.70,648.1 560.45,647.9 559.70,647.9 559.45,648.4 558.20,648.4 557.95,649.1 556.95,649.1 556.70,650.6 555.70,650.6 555.45,648.7 554.20,648.7 553.95,649.3 552.70,649.3 552.45,648.0 551.70,648.0 551.45,648.2 550.20,648.2 549.95,648.9 548.70,648.9 548.45,647.8 547.95,647.8 547.70,647.9 546.95,647.9Z" fill="#ff00ff" stroke="#ff00ff" stroke-width="0.70" stroke-linejoin="round"/>
<line x1="925.90" y1="627.0" x2="925.90" y2="657.0" stroke="#ff00ff" stroke-width="0.90" stroke-linecap="butt"/>
<line x1="635.35" y1="645.0" x2="635.35" y2="700.4" stroke="#ff00ff" stroke-width="2.60" stroke-linecap="butt"/>
<line x1="604.50" y1="645.0" x2="604.50" y2="673.6" stroke="#ff00ff" stroke-width="2.00" stroke-linecap="round"/>
<line x1="577.60" y1="645.0" x2="577.60" y2="614.6" stroke="#ff00ff" stroke-width="3.80" stroke-linecap="round"/>
<line x1="585.30" y1="645.0" x2="585.30" y2="591.5" stroke="#ff00ff" stroke-width="3.00" stroke-linecap="round"/>
<line x1="593.40" y1="645.0" x2="593.40" y2="598.6" stroke="#ff00ff" stroke-width="3.30" stroke-linecap="round"/>
<line x1="591.90" y1="645.0" x2="591.90" y2="603.4" stroke="#ff00ff" stroke-width="1.60" stroke-linecap="round"/>
<line x1="599.50" y1="645.0" x2="599.50" y2="584.0" stroke="#ff00ff" stroke-width="3.50" stroke-linecap="round"/>
<line x1="615.40" y1="645.0" x2="615.40" y2="616.8" stroke="#ff00ff" stroke-width="3.00" stroke-linecap="round"/>
<line x1="838.40" y1="645.0" x2="838.40" y2="599.5" stroke="#ff00ff" stroke-width="4.20" stroke-linecap="round"/>
<line x1="843.00" y1="645.0" x2="843.00" y2="612.0" stroke="#ff00ff" stroke-width="3.00" stroke-linecap="round"/>
<path d="M546.45,618.8 546.70,620.1 548.45,620.1 548.70,618.5 549.95,618.5 550.20,618.5 551.95,618.5 552.20,620.3 552.70,620.3 552.95,621.0 555.20,621.0 555.45,620.2 556.95,620.2 557.20,618.8 557.70,618.8 557.95,619.9 558.70,619.9 558.95,618.9 559.95,618.9 560.20,618.3 561.45,618.3 561.70,619.7 563.45,619.7 563.70,619.9 565.45,619.9 565.70,619.9 567.20,619.9 567.45,619.7 568.45,619.7 568.70,621.1 570.95,621.1 571.20,620.8 572.70,620.8 572.95,619.4 573.95,619.4 574.20,619.3 574.95,619.3 575.20,620.6 576.20,620.6 576.45,620.8 577.70,620.8 577.95,621.1 579.95,621.1 580.20,618.2 580.95,618.2 581.20,621.0 582.45,621.0 582.70,621.2 583.95,621.2 584.20,618.6 585.70,618.6 585.95,620.7 586.95,620.7 587.20,618.6 588.45,618.6 588.70,621.1 590.45,621.1 590.70,618.8 591.45,618.8 591.70,618.7 592.45,618.7 592.70,620.7 593.45,620.7 593.70,620.1 594.95,620.1 595.20,619.0 596.95,619.1 597.20,618.8 598.95,618.9 599.20,618.8 600.45,618.8 600.70,619.1 601.45,619.1 601.70,621.2 603.70,621.2 603.95,619.4 605.95,619.5 606.20,619.2 607.20,619.2 607.45,620.9 609.20,621.0 609.45,618.8 611.45,618.8 611.70,619.2 612.70,619.2 612.95,620.8 613.95,620.8 614.20,619.5 614.95,619.5 615.20,618.8 616.70,618.8 616.95,619.3 618.45,619.3 618.70,619.7 619.95,619.7 620.20,621.3 620.45,621.3 620.70,611.1 621.20,610.1 623.70,610.1 623.95,610.3 624.45,611.3 624.70,619.3 624.95,621.3 626.95,621.4 627.20,619.6 627.95,619.6 628.20,621.0 630.20,621.1 630.45,619.5 632.70,619.6 632.95,621.5 634.45,621.6 634.70,620.4 635.45,620.4 635.70,619.1 637.70,619.2 637.95,619.9 639.70,620.0 639.95,620.1 641.70,620.1 641.95,621.1 642.95,621.1 643.20,619.9 643.95,619.9 644.20,618.1 644.70,617.1 645.45,617.1 645.70,617.5 646.20,618.5 646.45,621.1 648.20,621.1 648.45,621.3 649.20,621.3 649.45,614.6 649.95,613.6 650.20,613.6 651.45,613.6 651.70,614.0 652.20,615.0 652.45,620.9 652.70,620.9 652.95,620.1 654.20,620.2 654.45,621.3 655.20,621.3 655.45,620.8 657.45,620.8 657.70,622.4 659.20,622.5 659.45,621.8 660.95,621.8 661.20,620.2 661.95,620.2 662.20,619.7 664.20,619.8 664.45,621.9 666.45,622.0 666.70,619.9 668.20,619.9 668.45,621.4 670.20,621.5 670.45,621.0 672.70,621.1 672.95,620.3 674.45,620.3 674.70,622.3 678.45,622.4 678.70,622.5 680.70,622.6 680.95,621.4 682.70,621.4 682.95,620.2 683.45,619.2 683.70,619.1 683.95,619.1 684.20,619.4 684.70,620.4 684.95,622.9 685.20,621.7 686.95,621.7 687.20,622.9 688.70,622.9 688.95,622.3 689.95,622.4 690.20,622.3 691.70,622.3 691.95,620.7 693.70,620.8 693.95,623.4 695.95,623.4 696.20,622.8 697.20,622.8 697.45,622.8 698.95,622.9 699.20,622.1 699.95,622.1 701.20,622.1 701.45,621.0 703.20,621.1 703.45,620.9 704.95,620.9 705.20,622.4 705.95,622.4 706.20,623.0 707.70,623.1 707.95,622.9 709.95,622.9 710.20,621.9 710.70,621.9 710.95,622.1 712.70,622.1 712.95,621.8 713.70,621.9 713.95,623.8 715.45,623.9 715.70,622.7 717.70,622.7 717.95,622.4 719.70,622.5 719.95,622.1 721.20,622.1 721.45,623.8 723.45,623.9 723.70,624.1 724.95,624.1 725.20,623.4 726.20,623.4 726.45,622.1 727.70,622.1 727.95,624.1 729.95,624.2 730.20,623.9 732.20,624.0 732.45,622.8 733.20,622.8 733.45,623.3 734.45,623.4 734.70,622.7 735.95,622.7 736.20,623.9 737.45,623.9 737.70,623.1 739.70,623.2 739.95,624.9 741.20,625.0 741.45,622.4 742.20,622.4 742.45,624.8 742.95,624.8 743.20,624.4 744.70,624.4 744.95,623.3 746.70,623.4 746.95,622.4 747.70,622.4 747.95,623.9 748.70,624.0 748.95,625.0 749.70,625.0 749.95,623.1 750.70,623.1 750.95,624.6 752.20,624.6 753.95,624.7 754.20,625.2 756.45,625.3 756.70,625.0 757.45,625.1 757.70,624.5 758.45,624.6 758.70,623.0 760.20,623.1 760.45,625.3 761.20,625.4 761.45,624.2 762.45,624.2 762.70,625.4 764.20,625.5 764.45,625.3 766.20,625.4 766.45,624.8 768.20,624.9 768.45,626.3 769.20,626.3 769.45,626.4 771.20,626.5 771.45,624.3 772.70,624.3 772.95,625.8 773.20,623.2 773.70,622.2 773.95,621.9 774.45,621.9 774.70,622.2 775.20,623.2 775.45,625.3 776.70,625.4 776.95,626.7 778.70,626.8 778.95,627.0 780.20,627.0 780.45,626.3 781.45,626.4 781.70,626.6 783.45,626.7 783.70,626.5 785.45,626.6 785.70,625.4 787.70,625.5 787.95,627.6 789.95,627.7 790.20,626.6 792.20,626.7 792.45,626.1 794.45,626.2 794.70,627.6 795.70,627.7 795.95,625.4 797.20,625.5 797.45,627.0 799.20,627.0 799.45,626.9 800.20,626.9 800.45,627.8 800.95,627.8 801.20,627.8 802.20,627.8 802.45,626.6 804.20,626.7 804.45,626.1 805.20,626.1 805.45,627.2 807.20,627.3 807.45,628.2 808.95,628.3 809.20,628.5 810.70,628.6 810.95,628.6 811.45,628.6 811.70,626.7 813.20,626.7 813.45,627.0 815.20,627.1 815.45,628.0 816.70,628.1 816.95,628.6 818.45,628.7 818.70,627.3 819.95,627.3 820.20,628.8 822.20,628.9 822.45,627.1 824.20,627.2 824.45,629.3 825.95,629.4 826.20,628.4 827.20,628.4 827.45,628.3 828.70,628.4 828.95,628.6 829.45,628.6 829.70,629.6 831.20,629.6 831.45,628.2 833.20,628.2 833.45,628.7 834.70,628.8 834.95,629.1 835.70,629.1 835.95,628.8 837.20,628.8 837.45,629.9 839.45,630.0 839.70,628.1 840.95,628.2 841.20,627.7 842.45,627.8 842.70,629.8 844.70,629.9 844.95,629.0 845.95,629.0 846.20,628.2 847.95,628.2 848.20,630.2 848.95,630.2 849.20,629.9 849.70,629.9 849.95,628.2 850.95,628.3 851.20,629.7 852.20,629.7 852.45,628.8 853.95,628.8 854.20,628.0 855.95,628.0 856.20,628.1 857.45,628.1 857.70,628.6 858.70,628.6 858.95,629.4 860.20,629.4 860.45,629.0 861.70,629.0 861.95,629.5 862.70,629.5 862.95,628.5 864.45,628.5 864.70,629.8 866.20,629.8 866.45,630.4 867.95,630.4 868.20,630.4 869.20,630.4 869.45,630.2 871.20,630.2 871.45,630.6 872.45,630.6 872.70,629.0 874.70,629.1 874.95,628.8 877.20,628.8 877.45,630.7 878.20,630.7 878.45,628.9 880.20,628.9 880.45,629.0 881.20,629.0 881.45,630.6 882.70,630.6 882.95,630.5 883.70,630.5 883.95,629.5 885.45,629.5 885.70,628.2 886.70,628.2 886.95,630.3 888.95,630.4 889.20,631.1 889.95,631.1 890.20,629.9 891.95,629.9 892.20,629.9 893.70,630.0 893.95,629.0 894.70,629.0 894.95,628.8 895.20,628.8 895.45,617.4 895.95,616.4 896.20,616.1 897.20,616.1 897.45,616.4 897.95,617.4 898.20,630.2 898.45,629.1 899.20,629.1 899.45,630.9 899.95,631.0 901.70,630.9 901.95,631.1 902.70,631.1 902.95,628.6 904.95,628.5 905.20,616.3 905.70,615.4 906.70,615.4 906.95,615.5 907.45,616.5 907.70,629.3 908.45,629.3 908.70,629.8 909.95,629.8 910.20,630.0 910.95,630.0 911.20,630.3 912.95,630.2 913.20,628.7 914.45,628.7 914.70,630.2 915.95,630.2 916.20,628.7 916.95,628.6 917.20,629.6 917.95,629.5 918.20,630.5 918.95,630.5 919.20,630.2 919.95,629.1 920.20,628.2 920.95,627.1 921.20,627.0 922.20,626.9 922.45,626.6 923.45,626.5 923.70,626.4 925.20,626.2 925.45,627.2 925.45,655.8 924.95,655.8 924.70,656.9 922.70,656.9 922.45,655.7 921.20,655.7 920.95,660.6 919.20,660.6 918.95,666.6 918.45,666.6 918.20,673.1 917.95,673.1 917.70,678.6 917.45,678.6 917.20,712.1 915.20,712.1 914.95,678.6 913.20,678.6 912.95,673.1 911.20,673.1 910.95,666.6 909.70,666.6 909.45,660.6 908.70,660.6 908.45,654.9 908.20,655.8 906.20,655.8 905.95,657.1 904.20,657.1 903.95,655.2 903.20,655.2 902.95,657.2 901.45,657.2 901.20,656.9 900.20,656.9 899.95,656.9 899.20,656.9 898.95,654.5 898.20,654.5 897.95,655.9 895.70,655.8 895.45,655.1 894.20,655.0 893.95,654.3 892.20,654.2 891.95,654.7 890.95,654.7 890.70,654.0 889.95,653.9 889.70,654.9 889.20,654.9 888.95,654.6 887.95,654.6 887.70,656.3 886.45,656.3 886.20,656.5 885.45,656.5 885.20,654.7 883.20,654.6 882.95,656.4 880.95,656.3 880.70,654.3 880.45,661.1 880.20,661.1 879.95,664.4 879.45,664.4 879.20,667.6 878.95,667.6 878.70,680.4 876.70,680.4 876.45,667.6 874.70,667.6 874.45,664.4 870.20,664.4 869.95,661.1 868.20,661.1 867.95,656.0 867.45,656.0 867.20,654.6 865.95,654.6 865.70,654.7 864.20,654.7 863.95,653.4 862.95,653.3 862.70,653.5 860.70,653.4 860.45,653.1 859.20,653.0 858.95,655.8 857.45,655.7 857.20,653.1 855.45,653.1 855.20,654.4 854.45,654.4 854.20,654.3 853.45,654.3 853.20,653.4 851.95,653.4 851.70,653.2 849.95,653.1 849.70,655.2 848.70,655.2 848.45,653.1 847.45,653.1 847.20,652.6 845.95,652.6 845.70,652.5 844.70,652.4 844.45,653.4 842.95,653.4 842.70,655.1 841.70,655.1 841.45,652.7 840.45,652.7 840.20,653.5 839.20,653.5 838.95,660.1 838.45,660.1 838.20,660.2 834.20,660.2 833.95,652.2 832.70,652.2 832.45,654.6 830.70,654.5 830.45,651.7 828.95,651.7 828.70,652.4 827.20,652.4 826.95,652.3 825.95,652.2 825.70,653.1 824.45,653.0 824.20,652.6 823.20,652.5 822.95,653.8 820.95,653.8 820.70,652.0 819.45,651.9 819.20,653.6 817.45,653.5 817.20,652.3 815.45,652.2 815.20,650.9 814.45,650.8 814.20,652.6 812.45,652.5 812.20,651.5 810.20,651.4 809.95,653.6 808.95,653.6 808.70,653.7 807.20,653.7 806.95,657.1 805.70,657.1 805.45,652.2 804.45,652.2 804.20,651.0 803.45,651.0 803.20,651.9 802.20,651.9 801.95,652.6 800.70,652.6 800.45,651.6 799.70,651.5 799.45,650.8 797.45,650.7 797.20,653.1 796.45,653.1 796.20,653.1 794.45,653.1 794.20,651.8 792.20,651.7 791.95,650.2 790.20,650.1 789.95,649.9 788.95,649.8 788.70,650.0 788.20,649.9 787.95,649.9 787.20,649.8 786.95,652.3 786.20,652.3 785.95,651.4 784.20,651.3 783.95,650.7 782.70,650.6 782.45,652.5 780.95,652.4 780.70,652.0 778.95,652.0 778.70,652.2 777.45,652.2 777.20,651.4 776.20,651.3 775.95,650.3 775.70,664.6 773.20,664.6 772.95,650.9 772.70,650.9 771.45,650.8 771.20,651.4 769.95,651.3 769.70,650.3 767.95,650.3 767.70,650.3 766.45,650.2 766.20,648.9 764.70,648.8 764.45,651.3 762.95,651.2 762.70,648.9 761.70,648.9 761.45,649.2 760.45,649.1 760.20,648.8 758.45,648.7 758.20,648.3 757.45,648.3 757.20,648.3 756.20,648.2 755.95,648.7 754.20,648.6 753.95,662.4 749.70,662.4 749.45,648.8 748.95,648.8 748.70,650.6 746.70,650.5 746.45,647.8 745.20,647.8 744.95,647.7 744.70,647.7 744.45,650.7 742.95,650.7 742.70,648.1 741.70,648.1 741.45,650.1 740.70,650.0 740.45,648.6 739.20,648.6 738.95,648.6 737.70,648.6 737.45,649.3 736.70,649.3 736.45,649.9 735.20,649.9 734.95,650.1 733.45,650.1 733.20,647.7 731.45,647.7 731.20,650.2 730.20,650.2 729.95,648.4 727.95,648.4 727.70,650.3 726.20,650.3 725.95,649.8 724.95,649.8 724.70,647.9 724.20,647.9 723.95,672.5 719.20,672.5 718.95,649.4 718.70,649.4 718.45,649.2 717.45,649.2 717.20,650.3 715.70,650.2 715.45,649.1 713.95,649.1 713.70,649.4 712.45,649.4 712.20,647.6 710.70,647.6 710.45,649.7 708.70,649.7 708.45,647.6 707.20,647.6 706.95,648.7 704.95,648.7 704.70,647.3 703.95,647.3 703.70,696.1 701.20,696.1 700.95,647.4 699.95,647.4 699.20,647.4 698.95,647.3 697.70,647.3 697.45,647.8 696.45,647.8 696.20,649.9 695.70,649.9 695.45,647.5 694.45,647.5 694.20,648.9 692.95,648.9 692.70,648.1 691.95,648.1 691.70,647.0 691.45,647.0 691.20,653.6 690.20,653.6 689.95,649.9 688.95,649.9 688.70,649.2 687.20,649.2 686.95,647.7 685.20,647.7 684.95,647.3 684.20,647.3 683.95,647.8 682.45,647.8 682.20,647.6 680.95,647.6 680.70,649.1 679.45,649.1 679.20,647.3 677.70,647.3 677.45,648.5 675.95,648.5 675.70,650.0 674.20,650.0 673.95,647.9 672.70,647.9 672.45,648.0 671.95,648.0 671.70,648.5 669.70,648.6 669.45,649.9 667.45,649.9 667.20,649.9 666.45,649.9 666.20,676.9 662.45,676.9 662.20,649.3 661.70,649.3 661.45,648.0 660.45,648.0 660.20,649.5 658.70,649.5 658.45,648.8 656.45,648.8 656.20,649.4 654.95,649.5 654.70,650.0 652.70,650.1 652.45,648.8 650.95,648.8 650.70,648.4 648.45,648.4 648.20,648.3 647.20,648.3 646.95,647.5 644.95,647.5 644.70,649.2 643.20,649.3 642.95,647.9 641.95,647.9 641.70,649.3 640.70,649.3 640.45,648.7 639.95,648.7 638.95,648.7 638.70,648.0 636.70,648.1 636.45,648.1 636.20,661.6 634.20,661.6 633.95,650.3 633.45,650.3 633.20,648.2 631.45,648.2 631.20,662.4 629.20,662.4 628.95,648.2 627.70,648.3 627.45,666.4 625.45,666.4 625.20,648.7 623.70,648.7 623.45,649.3 622.95,649.3 622.70,651.1 620.45,651.2 620.20,648.1 619.95,658.1 618.70,658.1 618.45,648.7 617.95,648.7 617.70,650.5 616.45,650.5 616.20,648.2 615.20,648.2 614.95,650.5 614.70,650.5 614.45,656.6 613.20,656.6 612.95,650.6 612.70,649.3 611.95,649.3 611.70,648.8 609.70,648.8 609.45,649.8 609.20,649.8 608.95,690.0 605.70,690.0 605.45,649.9 604.95,650.0 604.70,649.2 603.70,649.2 603.45,648.8 602.20,648.9 601.95,649.7 600.45,649.7 600.20,648.9 599.95,648.9 599.20,648.9 598.95,649.3 597.95,649.3 597.70,664.6 595.70,664.6 595.45,649.1 595.20,649.9 593.45,649.9 593.20,649.4 591.95,649.4 591.70,650.0 590.45,650.0 590.20,648.9 588.70,648.9 588.45,675.6 585.95,675.6 585.70,649.9 584.95,649.9 584.70,649.1 583.95,649.1 583.70,651.0 581.95,651.0 581.70,649.8 580.70,649.8 580.45,652.0 578.70,652.0 578.45,664.6 575.95,664.6 575.70,650.0 575.45,650.0 575.20,650.7 573.95,650.7 573.70,650.0 572.45,650.0 572.20,649.3 570.70,649.3 570.45,655.1 569.20,655.1 568.95,650.8 568.45,650.8 568.20,649.3 567.20,649.3 566.95,649.2 565.70,649.2 565.45,652.1 563.45,652.1 563.20,650.4 562.45,650.4 562.20,649.1 561.95,655.6 560.70,655.6 560.45,649.1 560.20,649.1 559.95,651.6 559.45,651.6 559.20,649.9 557.95,649.9 557.70,649.1 555.95,649.2 555.70,649.1 553.95,649.1 553.70,649.4 551.70,649.4 551.45,649.3 550.20,649.4 549.95,650.6 548.95,650.6 548.70,658.9 546.45,658.9Z" fill="#a52a2a" stroke="#a52a2a" stroke-width="0.70" stroke-linejoin="round"/>
</g>
<g stroke="#000" stroke-width="1.1" fill="none">
<line x1="150.5" y1="712.5" x2="150.5" y2="717.7"/>
<line x1="266.5" y1="712.5" x2="266.5" y2="717.7"/>
<line x1="383.5" y1="712.5" x2="383.5" y2="717.7"/>
<line x1="499.5" y1="712.5" x2="499.5" y2="717.7"/>
<line x1="615.5" y1="712.5" x2="615.5" y2="717.7"/>
<line x1="731.5" y1="712.5" x2="731.5" y2="717.7"/>
<line x1="848.5" y1="712.5" x2="848.5" y2="717.7"/>
<line x1="964.5" y1="712.5" x2="964.5" y2="717.7"/>
<line x1="1080.5" y1="712.5" x2="1080.5" y2="717.7"/>
<line x1="145.3" y1="712.5" x2="150.5" y2="712.5"/>
<line x1="145.3" y1="624.5" x2="150.5" y2="624.5"/>
<line x1="145.3" y1="536.5" x2="150.5" y2="536.5"/>
<line x1="145.3" y1="448.5" x2="150.5" y2="448.5"/>
<line x1="145.3" y1="360.5" x2="150.5" y2="360.5"/>
<line x1="145.3" y1="272.5" x2="150.5" y2="272.5"/>
<line x1="145.3" y1="184.5" x2="150.5" y2="184.5"/>
<line x1="145.3" y1="96.5" x2="150.5" y2="96.5"/>
</g>
<rect x="150.5" y="96.5" width="930.0" height="616.0" fill="none" stroke="#000" stroke-width="1.1"/>
<g fill="#000" font-family='"Liberation Sans", sans-serif'>
<text transform="translate(143.39,739.90) scale(1.0156,1.0)" font-size="24.00">0</text>
<text transform="translate(259.63,739.90) scale(1.0263,1.0)" font-size="24.00">3</text>
<text transform="translate(375.54,739.90) scale(1.0541,1.0)" font-size="24.00">6</text>
<text transform="translate(491.85,739.90) scale(1.0541,1.0)" font-size="24.00">9</text>
<text transform="translate(601.22,739.90) scale(0.9873,1.0)" font-size="24.00">12</text>
<text transform="translate(718.21,739.90) scale(0.9966,1.0)" font-size="24.00">15</text>
<text transform="translate(833.97,739.90) scale(1.0160,1.0)" font-size="24.00">18</text>
<text transform="translate(950.13,739.90) scale(0.9753,1.0)" font-size="24.00">21</text>
<text transform="translate(1066.99,739.90) scale(1.0048,1.0)" font-size="24.00">24</text>
<text transform="translate(127.39,720.90) scale(1.0069,1.0)" font-size="24.00">0</text>
<text transform="translate(127.10,632.90) scale(1.0018,1.0)" font-size="24.00">2</text>
<text transform="translate(126.25,544.90) scale(1.0231,1.0)" font-size="24.00">4</text>
<text transform="translate(126.97,456.90) scale(1.0270,1.0)" font-size="24.00">6</text>
<text transform="translate(127.17,368.90) scale(1.0106,1.0)" font-size="24.00">8</text>
<text transform="translate(112.00,280.90) scale(1.0025,1.0)" font-size="24.00">10</text>
<text transform="translate(112.01,192.90) scale(0.9958,1.0)" font-size="24.00">12</text>
<text transform="translate(112.20,104.90) scale(1.0008,1.0)" font-size="24.00">14</text>
<text transform="translate(370.03,87.90) scale(0.9030,1.0)" font-size="22.40">PARAGUAY</text><text transform="translate(485.77,87.90) scale(1.0816,1.0)" font-size="22.40">of</text><text transform="translate(513.01,87.90) scale(1.0652,1.0)" font-size="22.40">2025/10/27</text><text transform="translate(640.86,87.90) scale(1.0787,1.0)" font-size="22.40">with</text><text transform="translate(690.82,87.90) scale(1.0101,1.0)" font-size="22.40">focus</text><text transform="translate(752.12,87.90) scale(1.0290,1.0)" font-size="22.40">code</text><text transform="translate(809.26,87.90) scale(1.2637,1.0)" font-size="22.40">=</text><text transform="translate(833.55,87.90) scale(1.0105,1.0)" font-size="22.40">01</text>
<text transform="translate(518.27,765.50) scale(1.0532,1.0)" font-size="22.40">Universal</text><text transform="translate(621.47,765.50) scale(1.0508,1.0)" font-size="22.40">Time</text><text transform="translate(688.63,765.50) scale(1.1029,1.0)" font-size="22.40">h</text>
<text transform="translate(681.02,764.60) scale(1.0045,0.92)" font-size="22.40">[</text><text transform="translate(704.42,764.60) scale(1.0491,0.92)" font-size="22.40">]</text>
<text transform="translate(100.80,470.43) rotate(-90) scale(1.0471,1.0)" font-size="22.4">Y-factor</text>
<text transform="translate(100.80,377.67) rotate(-90) scale(1.1225,1.0)" font-size="22.4">dB</text>
<text transform="translate(99.90,384.57) rotate(-90) scale(0.9375,0.92)" font-size="22.4">[</text><text transform="translate(99.90,345.76) rotate(-90) scale(0.9375,0.92)" font-size="22.4">]</text>
</g>
<rect x="912.5" y="104.5" width="159.5" height="168" rx="3.3" ry="3.3" fill="#fff" fill-opacity="0.8" stroke="#ccc" stroke-opacity="0.8" stroke-width="1.1"/>
<g fill="#000" font-family='"Liberation Sans", sans-serif'>
<line x1="918" y1="117" x2="953" y2="117" stroke="#0000ff" stroke-width="2.04"/>
<text transform="translate(977.03,122.80) scale(1.0667,1.0)" font-size="17.40">49.2</text><text transform="translate(1018.27,122.80) scale(1.0313,1.0)" font-size="17.40">MHz</text>
<line x1="918" y1="141" x2="953" y2="141" stroke="#008000" stroke-width="2.04"/>
<text transform="translate(977.08,146.20) scale(1.0540,1.0)" font-size="17.40">74.4</text><text transform="translate(1018.27,146.20) scale(1.0313,1.0)" font-size="17.40">MHz</text>
<line x1="918" y1="164" x2="953" y2="164" stroke="#ff0000" stroke-width="2.04"/>
<text transform="translate(971.11,169.60) scale(1.0663,1.0)" font-size="17.40">151.8</text><text transform="translate(1024.30,169.60) scale(1.0089,1.0)" font-size="17.40">MHz</text>
<line x1="918" y1="187" x2="953" y2="187" stroke="#ffa500" stroke-width="2.04"/>
<text transform="translate(971.37,193.00) scale(1.0658,1.0)" font-size="17.40">266.7</text><text transform="translate(1024.30,193.00) scale(1.0089,1.0)" font-size="17.40">MHz</text>
<line x1="918" y1="211" x2="953" y2="211" stroke="#ff00ff" stroke-width="2.04"/>
<text transform="translate(971.30,216.40) scale(1.0723,1.0)" font-size="17.40">325.3</text><text transform="translate(1024.30,216.40) scale(1.0089,1.0)" font-size="17.40">MHz</text>
<line x1="918" y1="234" x2="953" y2="234" stroke="#a52a2a" stroke-width="2.04"/>
<text transform="translate(971.58,239.80) scale(1.0608,1.0)" font-size="17.40">407.7</text><text transform="translate(1024.30,239.80) scale(1.0089,1.0)" font-size="17.40">MHz</text>
<line x1="918" y1="257" x2="953" y2="257" stroke="#a52a2a" stroke-width="2.04"/>
<text transform="translate(971.38,263.20) scale(1.0562,1.0)" font-size="17.40">612.1</text><text transform="translate(1024.30,263.20) scale(1.0089,1.0)" font-size="17.40">MHz</text>
</g>
</svg>
</body></html>
